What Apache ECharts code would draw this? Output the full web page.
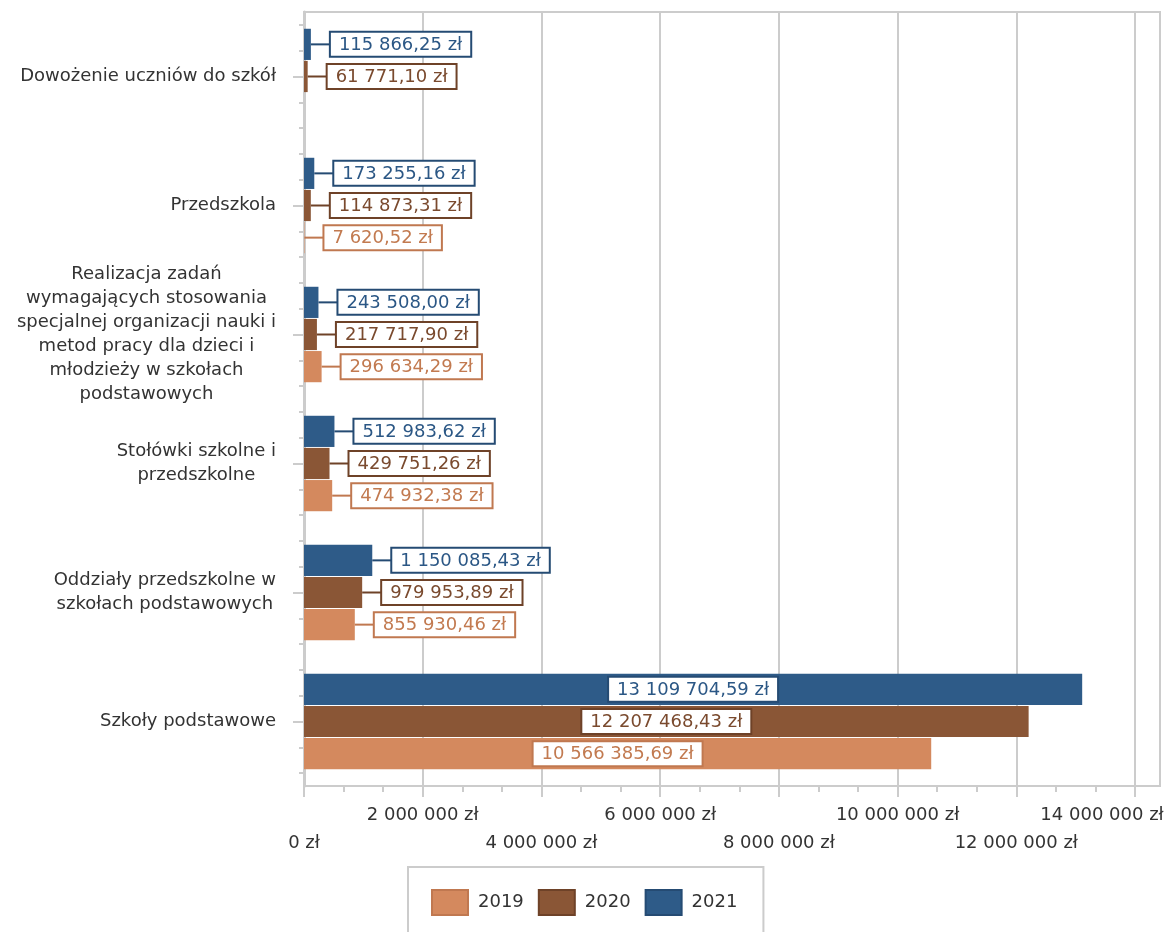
<!DOCTYPE html>
<html>
<head>
<meta charset="utf-8">
<script src="https://cdn.jsdelivr.net/npm/echarts@6/dist/echarts.min.js"></script>
<style>
  html, body { margin: 0; padding: 0; background: #ffffff; }
  #chart { width: 1170px; height: 932px; }
</style>
</head>
<body>
<div id="chart"></div>
<script>
// Categories listed top to bottom
const categories = [
  'Dowożenie uczniów do szkół',
  'Przedszkola',
  'Realizacja zadań\nwymagających stosowania\nspecjalnej organizacji nauki i\nmetod pracy dla dzieci i\nmłodzieży w szkołach\npodstawowych',
  'Stołówki szkolne i\nprzedszkolne',
  'Oddziały przedszkolne w\nszkołach podstawowych',
  'Szkoły podstawowe'
];
const years = ['2019', '2020', '2021'];
const values2019 = [null, 7620.52, 296634.29, 474932.38, 855930.46, 10566385.69];
const values2020 = [61771.10, 114873.31, 217717.90, 429751.26, 979953.89, 12207468.43];
const values2021 = [115866.25, 173255.16, 243508.00, 512983.62, 1150085.43, 13109704.59];
// axis labels alternate between two rows
const xTicksUpper = [2000000, 6000000, 10000000, 14000000];
const xTicksLower = [0, 4000000, 8000000, 12000000];

const barColors = ['#D4895E', '#8A5636', '#2E5B88'];
const labelColors = ['#C27A50', '#7A4A2E', '#2B5785'];
const edgeColors = ['#C07850', '#6E4228', '#254B73'];
const gridGray = '#cccccc';
const textGray = '#333333';
const FONT = '"DejaVu Sans", Verdana, sans-serif';

const xMax = Math.max(...values2021) * 1.1;
const xMajorTicks = xTicksLower.concat(xTicksUpper).sort((a, b) => a - b);

// minor tick marks: three sub-steps per major step
const xMinorTicks = [];
for (let i = 0; i < xMajorTicks.length - 1; i++) {
  const a = xMajorTicks[i], b = xMajorTicks[i + 1];
  xMinorTicks.push(a + (b - a) / 3, a + 2 * (b - a) / 3);
}
// five tick slots per category band on the vertical axis
const ySubSlots = [];
for (let i = 0; i < categories.length * 5; i++) ySubSlots.push('');

function groupDigits(intStr) {
  return intStr.replace(/\B(?=(\d{3})+(?!\d))/g, ' ');
}
function fmtMoney(v) {
  const parts = Number(v).toFixed(2).split('.');
  return groupDigits(parts[0]) + ',' + parts[1] + ' zł';
}
function fmtAxis(v) {
  return groupDigits(String(Math.round(v))) + ' zł';
}

const lastIndex = categories.length - 1;

function makeSeries(idx, values) {
  return {
    name: years[idx],
    type: 'bar',
    xAxisIndex: 0,
    yAxisIndex: 0,
    barCategoryGap: '26%',
    barGap: '3%',
    itemStyle: { color: barColors[idx] },
    label: {
      show: true,
      position: 'right',
      distance: 0,
      // a short leader line followed by the boxed value
      formatter: (p) => (p.dataIndex === lastIndex ? '' : '{lead|}') + '{box|' + fmtMoney(p.value) + '}',
      rich: {
        lead: { width: 20, height: 2, backgroundColor: edgeColors[idx] },
        box: {
          fontFamily: FONT,
          fontSize: 18,
          color: labelColors[idx],
          backgroundColor: '#ffffff',
          borderColor: edgeColors[idx],
          borderWidth: 2,
          padding: [3, 8, 2, 8],
          lineHeight: 21
        }
      }
    },
    data: values.map((v, i) => {
      if (v == null) return null;
      if (i === lastIndex) {
        return { value: v, label: { position: 'inside' } };
      }
      return v;
    })
  };
}

const axisText = { fontFamily: FONT, fontSize: 18, color: textGray, lineHeight: 28 };

const chart = echarts.init(document.getElementById('chart'), null, { renderer: 'canvas' });

chart.setOption({
  animation: false,
  backgroundColor: '#ffffff',
  grid: {
    left: 304,
    right: 10,
    top: 12,
    bottom: 146,
    show: true,
    borderColor: gridGray,
    borderWidth: 2,
    containLabel: false,
    outerBoundsMode: 'none'
  },
  legend: {
    left: 408,
    top: 867,
    data: years.map((y, i) => ({
      name: y,
      itemStyle: { color: barColors[i], borderColor: edgeColors[i], borderWidth: 2 }
    })),
    icon: 'rect',
    itemWidth: 36,
    itemHeight: 25,
    itemGap: 14,
    padding: [22, 26, 30, 23],
    borderColor: gridGray,
    borderWidth: 2,
    textStyle: { fontFamily: FONT, fontSize: 18, color: textGray, padding: [0, 0, 0, 5] }
  },
  xAxis: [
    {
      // main axis: line, grid lines, major ticks and the upper label row
      type: 'value',
      min: 0,
      max: xMax,
      axisLine: { show: true, lineStyle: { color: gridGray, width: 2 } },
      axisTick: { show: true, customValues: xMajorTicks, length: 11, lineStyle: { color: gridGray, width: 2 } },
      splitLine: { show: true, lineStyle: { color: gridGray, width: 2 } },
      axisLabel: Object.assign({
        customValues: xTicksUpper,
        showMinLabel: true,
        showMaxLabel: true,
        margin: 15,
        formatter: (v) => (v === xTicksUpper[xTicksUpper.length - 1] ? '{edge|' + fmtAxis(v) + '}' : fmtAxis(v)),
        rich: {
          // keeps the last label inside the canvas
          edge: Object.assign({ padding: [0, 66, 0, 0] }, axisText)
        }
      }, axisText)
    },
    {
      // secondary axis: minor ticks and the lower label row
      type: 'value',
      position: 'bottom',
      min: 0,
      max: xMax,
      axisLine: { show: false },
      axisTick: { show: true, customValues: xMinorTicks, length: 6, lineStyle: { color: gridGray, width: 2 } },
      splitLine: { show: false },
      axisLabel: Object.assign({
        customValues: xTicksLower,
        showMinLabel: true,
        showMaxLabel: true,
        margin: 43,
        formatter: (v) => fmtAxis(v)
      }, axisText)
    }
  ],
  yAxis: [
    {
      type: 'category',
      inverse: true,
      data: categories,
      axisLine: { show: true, lineStyle: { color: gridGray, width: 3 } },
      axisTick: { show: true, alignWithLabel: true, length: 11, lineStyle: { color: gridGray, width: 2 } },
      splitLine: { show: false },
      axisLabel: {
        margin: 28,
        fontFamily: FONT,
        fontSize: 18,
        color: textGray,
        lineHeight: 24,
        formatter: (v) => v.split('\n').map((s) => '{c|' + s + '}').join('\n'),
        rich: { c: { align: 'center', fontFamily: FONT, fontSize: 18, color: textGray, lineHeight: 24 } }
      }
    },
    {
      type: 'category',
      position: 'left',
      data: ySubSlots,
      axisLine: { show: false },
      axisTick: { show: true, alignWithLabel: true, length: 5, lineStyle: { color: gridGray, width: 2 } },
      splitLine: { show: false },
      axisLabel: { show: false }
    }
  ],
  // listed so that 2021 sits on top of each group
  series: [
    makeSeries(2, values2021),
    makeSeries(1, values2020),
    makeSeries(0, values2019)
  ]
});
</script>
</body>
</html>
